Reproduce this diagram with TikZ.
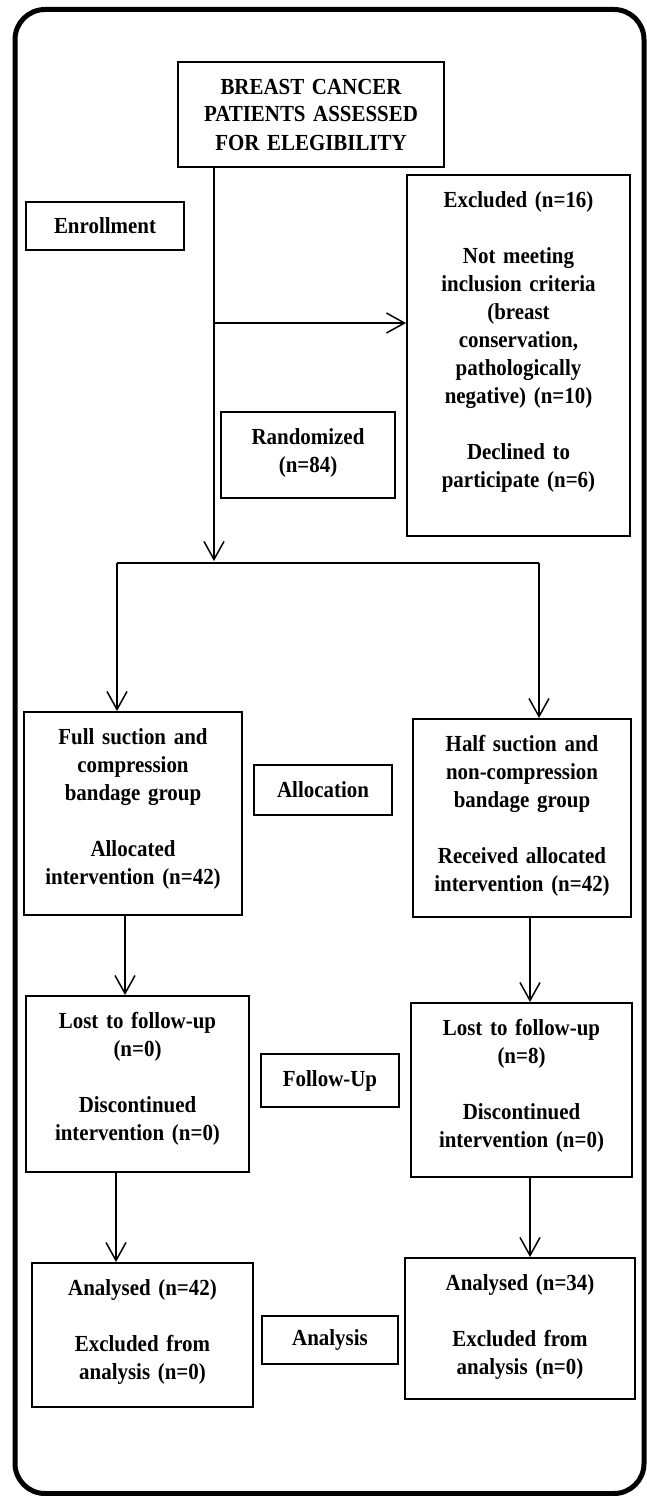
\documentclass[tikz,border=0pt]{standalone}
\usepackage{fontspec}
\setmainfont{Liberation Serif}[FakeStretch=0.91]
\usetikzlibrary{arrows.meta}
\newcommand{\boxfont}{\fontsize{23}{28}\selectfont\bfseries\spaceskip=5pt plus 1pt minus 1pt\relax}
\begin{document}
\begin{tikzpicture}[x=1pt,y=-1pt,
  box/.style={draw, line width=2pt, inner sep=0pt, font=\boxfont, align=center},
  tbox/.style 2 args={box, anchor=north, minimum width=#1, text height=32pt, text depth=#2},
  cbox/.style 2 args={box, anchor=center, minimum width=#1, minimum height=#2},
  conn/.style={line width=1.5pt},
  arr/.style={conn, -{Straight Barb[length=18pt,width=20pt]}}]
\useasboundingbox[fill=white] (0,0) rectangle (647,1496);
\draw[line width=5pt, rounded corners=30pt] (15,9.5) rectangle (644,1493.5);

\node[tbox={266pt}{73pt}, text width=254pt] (title) at (311,61) {BREAST CANCER\\PATIENTS ASSESSED\\FOR ELEGIBILITY};
\node[cbox={158pt}{48pt}] (enr) at (105,226) {Enrollment};
\node[tbox={223pt}{329pt}, text width=211pt] (excl) at (518.5,174) {Excluded (n=16)\\[28pt]Not meeting\\inclusion criteria\\(breast\\conservation,\\pathologically\\negative) (n=10)\\[28pt]Declined to\\participate (n=6)};
\node[tbox={174pt}{54pt}, text width=162pt] (rand) at (308,411) {Randomized\\(n=84)};
\node[tbox={218.5pt}{171pt}, text width=206pt] (full) at (133,711) {Full suction and\\compression\\bandage group\\[28pt]Allocated\\intervention (n=42)};
\node[tbox={218.5pt}{166pt}, text width=206pt] (half) at (522,718) {Half suction and\\non-compression\\bandage group\\[28pt]Received allocated\\intervention (n=42)};
\node[cbox={137.5pt}{50pt}] (alloc) at (323,790) {Allocation};
\node[tbox={223pt}{144pt}, text width=211pt] (lostL) at (137.5,995) {Lost to follow-up\\(n=0)\\[28pt]Discontinued\\intervention (n=0)};
\node[tbox={221pt}{142pt}, text width=209pt] (lostR) at (521.5,1002) {Lost to follow-up\\(n=8)\\[28pt]Discontinued\\intervention (n=0)};
\node[cbox={137.5pt}{53pt}] (fu) at (330,1080.5) {Follow-Up};
\node[tbox={221pt}{112pt}, text width=209pt] (anaL) at (142.5,1262) {Analysed (n=42)\\[28pt]Excluded from\\analysis (n=0)};
\node[tbox={230pt}{109pt}, text width=218pt] (anaR) at (520,1257) {Analysed (n=34)\\[28pt]Excluded from\\analysis (n=0)};
\node[cbox={136pt}{48pt}] (ana) at (330,1340) {Analysis};

\coordinate (j) at (214,323);
\coordinate (d) at (214,561);
\coordinate (sL) at (117,563);
\coordinate (sR) at (539,563);
\coordinate (a1) at (125,0);
\coordinate (a2) at (530,0);
\coordinate (a3) at (116,0);
\coordinate (a4) at (530,0);

\draw[arr] (title.south -| d) -- (d);
\draw[arr] (j) -- (j -| excl.west);
\draw[conn] (sL) -- (sR);
\draw[arr] (sL) -- (sL |- full.north);
\draw[arr] (sR) -- (sR |- half.north);
\draw[arr] (full.south -| a1) -- (lostL.north -| a1);
\draw[arr] (half.south -| a2) -- (lostR.north -| a2);
\draw[arr] (lostL.south -| a3) -- (anaL.north -| a3);
\draw[arr] (lostR.south -| a4) -- (anaR.north -| a4);
\end{tikzpicture}
\end{document}
